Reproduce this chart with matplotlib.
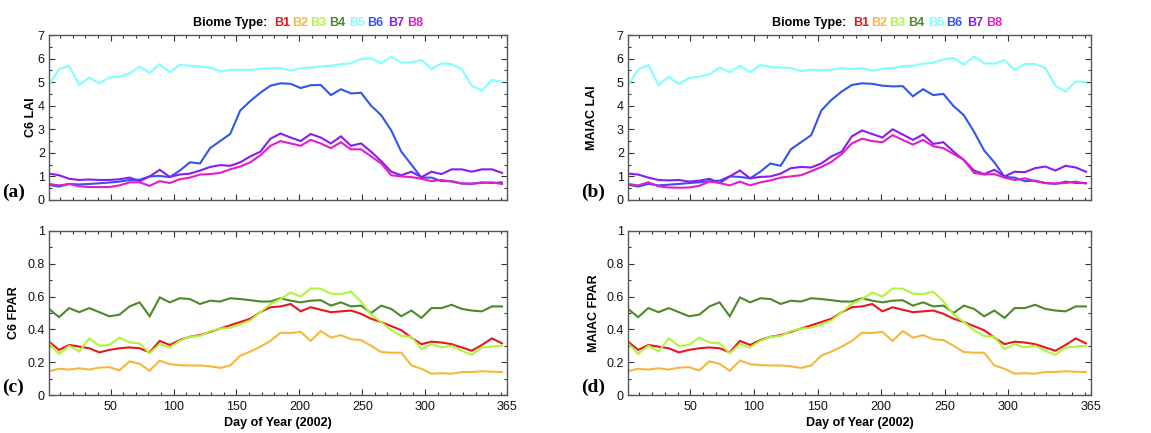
import numpy as np
import matplotlib
matplotlib.use("Agg")
import matplotlib.pyplot as plt
from matplotlib.ticker import MultipleLocator, FixedLocator

plt.rcParams['font.family'] = ['Liberation Sans', 'DejaVu Sans']

# Day of year of the 8-day composites
days = list(range(1, 362, 8))

# ---- C6 LAI (panel a) ----
c6_b5 = [4.88, 5.55, 5.69, 4.88, 5.19, 4.95, 5.20, 5.23, 5.37, 5.66, 5.40, 5.76, 5.42, 5.73, 5.70, 5.66,
         5.62, 5.45, 5.52, 5.52, 5.52, 5.56, 5.59, 5.59, 5.49, 5.59, 5.62, 5.66, 5.70, 5.76, 5.80, 5.98,
         6.01, 5.80, 6.08, 5.83, 5.84, 5.94, 5.56, 5.80, 5.76, 5.55, 4.85, 4.64, 5.09, 5.02]
c6_b6 = [0.64, 0.57, 0.68, 0.66, 0.68, 0.71, 0.74, 0.78, 0.85, 0.86, 1.00, 1.02, 0.97, 1.25, 1.60, 1.55,
         2.20, 2.50, 2.80, 3.80, 4.20, 4.55, 4.85, 4.95, 4.93, 4.75, 4.87, 4.88, 4.45, 4.70, 4.52, 4.55,
         4.00, 3.60, 2.95, 2.05, 1.50, 0.95, 0.95, 0.80, 0.80, 0.70, 0.68, 0.75, 0.72, 0.75]
c6_b7 = [1.12, 1.05, 0.90, 0.85, 0.87, 0.85, 0.85, 0.88, 0.95, 0.80, 1.00, 1.28, 0.98, 1.08, 1.12, 1.25,
         1.40, 1.48, 1.45, 1.60, 1.85, 2.05, 2.60, 2.82, 2.65, 2.50, 2.80, 2.65, 2.40, 2.70, 2.30, 2.40,
         2.05, 1.65, 1.20, 1.05, 1.20, 0.97, 1.20, 1.10, 1.30, 1.30, 1.20, 1.30, 1.30, 1.15]
c6_b8 = [0.68, 0.62, 0.68, 0.58, 0.55, 0.55, 0.55, 0.62, 0.75, 0.75, 0.60, 0.80, 0.72, 0.88, 0.95, 1.08,
         1.10, 1.15, 1.30, 1.42, 1.60, 1.90, 2.30, 2.50, 2.40, 2.30, 2.55, 2.40, 2.20, 2.45, 2.15, 2.15,
         1.85, 1.55, 1.05, 1.00, 0.97, 0.90, 0.80, 0.85, 0.78, 0.70, 0.70, 0.72, 0.75, 0.68]

# ---- MAIAC LAI (panel b) ----
mc_b5 = [4.85, 5.55, 5.72, 4.88, 5.22, 4.93, 5.17, 5.23, 5.33, 5.62, 5.42, 5.70, 5.42, 5.72, 5.65, 5.62,
         5.60, 5.47, 5.53, 5.50, 5.53, 5.60, 5.55, 5.60, 5.48, 5.57, 5.60, 5.68, 5.70, 5.78, 5.82, 5.97,
         6.02, 5.75, 6.08, 5.80, 5.78, 5.93, 5.52, 5.77, 5.77, 5.60, 4.85, 4.60, 5.03, 5.00]
mc_b6 = [0.65, 0.57, 0.68, 0.62, 0.65, 0.68, 0.72, 0.75, 0.80, 0.82, 1.00, 0.98, 0.92, 1.20, 1.55, 1.45,
         2.15, 2.45, 2.75, 3.80, 4.25, 4.60, 4.88, 4.95, 4.93, 4.85, 4.82, 4.83, 4.40, 4.70, 4.45, 4.50,
         3.98, 3.60, 2.90, 2.10, 1.60, 0.98, 0.95, 0.80, 0.82, 0.72, 0.68, 0.78, 0.72, 0.72]
mc_b7 = [1.12, 1.08, 0.95, 0.85, 0.83, 0.85, 0.78, 0.82, 0.90, 0.72, 1.00, 1.25, 0.92, 0.98, 1.00, 1.12,
         1.35, 1.40, 1.38, 1.55, 1.85, 2.05, 2.70, 2.95, 2.80, 2.65, 3.00, 2.78, 2.55, 2.78, 2.38, 2.45,
         2.05, 1.70, 1.25, 1.10, 1.28, 1.00, 1.20, 1.18, 1.35, 1.42, 1.25, 1.45, 1.38, 1.20]
mc_b8 = [0.68, 0.62, 0.75, 0.58, 0.53, 0.52, 0.53, 0.60, 0.78, 0.72, 0.62, 0.78, 0.62, 0.75, 0.83, 0.95,
         1.00, 1.05, 1.22, 1.40, 1.62, 1.95, 2.40, 2.60, 2.50, 2.45, 2.75, 2.55, 2.35, 2.55, 2.28, 2.20,
         1.95, 1.70, 1.15, 1.08, 1.10, 0.95, 0.85, 0.92, 0.80, 0.72, 0.70, 0.72, 0.78, 0.70]

# ---- FPAR (panels c and d) ----
c6_b1 = [0.325, 0.275, 0.305, 0.295, 0.285, 0.260, 0.275, 0.285, 0.290, 0.285, 0.260, 0.330, 0.305, 0.335,
         0.355, 0.365, 0.385, 0.405, 0.425, 0.445, 0.465, 0.505, 0.535, 0.540, 0.555, 0.510, 0.535, 0.520,
         0.505, 0.510, 0.515, 0.495, 0.465, 0.445, 0.420, 0.395, 0.350, 0.310, 0.325, 0.320, 0.310, 0.290,
         0.270, 0.305, 0.345, 0.315]
c6_b2 = [0.145, 0.160, 0.155, 0.163, 0.155, 0.167, 0.170, 0.150, 0.205, 0.190, 0.148, 0.210, 0.188, 0.182,
         0.180, 0.180, 0.175, 0.165, 0.180, 0.240, 0.265, 0.295, 0.330, 0.380, 0.378, 0.385, 0.330, 0.390,
         0.350, 0.365, 0.340, 0.335, 0.300, 0.262, 0.258, 0.258, 0.180, 0.160, 0.130, 0.133, 0.130, 0.140,
         0.140, 0.145, 0.142, 0.140]
c6_b3 = [0.315, 0.250, 0.300, 0.265, 0.345, 0.300, 0.305, 0.350, 0.320, 0.315, 0.255, 0.310, 0.290, 0.330,
         0.355, 0.360, 0.390, 0.405, 0.410, 0.430, 0.455, 0.505, 0.555, 0.585, 0.625, 0.600, 0.650, 0.648,
         0.618, 0.615, 0.630, 0.570, 0.490, 0.445, 0.395, 0.360, 0.355, 0.280, 0.310, 0.290, 0.300, 0.270,
         0.245, 0.290, 0.295, 0.300]
c6_b4 = [0.525, 0.475, 0.530, 0.505, 0.530, 0.505, 0.480, 0.490, 0.540, 0.565, 0.480, 0.595, 0.565, 0.590,
         0.585, 0.555, 0.575, 0.570, 0.590, 0.585, 0.578, 0.570, 0.570, 0.590, 0.575, 0.565, 0.575, 0.578,
         0.545, 0.565, 0.540, 0.545, 0.500, 0.545, 0.525, 0.480, 0.515, 0.470, 0.530, 0.530, 0.550, 0.525,
         0.515, 0.510, 0.540, 0.540]
mc_b1 = list(c6_b1)
mc_b2 = list(c6_b2)
mc_b3 = list(c6_b3)
mc_b4 = list(c6_b4)

biomes = ['B1', 'B2', 'B3', 'B4', 'B5', 'B6', 'B7', 'B8']
colors = {'B1': '#e8161e', 'B2': '#f5b83c', 'B3': '#b0f53c', 'B4': '#4c8a28',
          'B5': '#80ffff', 'B6': '#3355ee', 'B7': '#8a1cf0', 'B8': '#e21ec8'}
xticks_major = [50, 100, 150, 200, 250, 300, 365]

W, H = 1151, 433
fig = plt.figure(figsize=(W / 100, H / 100), dpi=100)
FS = 9


def px_axes(l, t, r, b):
    return fig.add_axes([l / W, 1 - b / H, (r - l) / W, (b - t) / H])


def style(ax, ymax, ymajor, yminor, show_x):
    ax.set_xlim(1, 365)
    ax.set_ylim(0, ymax)
    ax.xaxis.set_major_locator(FixedLocator(xticks_major))
    ax.xaxis.set_minor_locator(MultipleLocator(10))
    ax.yaxis.set_major_locator(MultipleLocator(ymajor))
    ax.yaxis.set_minor_locator(MultipleLocator(yminor))
    ax.tick_params(which='both', direction='in', top=True, right=True, colors='#333333',
                   labelsize=FS, labelcolor='#111111', width=0.8)
    ax.tick_params(which='major', length=4)
    ax.tick_params(which='minor', length=2)
    ax.tick_params(axis='y', pad=3)
    ax.tick_params(axis='x', pad=4)
    for s in ax.spines.values():
        s.set_color('#555555')
        s.set_linewidth(1.0)
    if not show_x:
        ax.set_xticklabels([])
    else:
        ax.set_xlabel('Day of Year (2002)', fontsize=FS, fontweight='bold', labelpad=3)
    ax.yaxis.set_major_formatter(matplotlib.ticker.FuncFormatter(
        lambda v, p: ('%g' % round(v, 2))))


def legend_row(x0):
    y = 1 - 23 / H
    fig.text((x0 + 193) / W, y, 'Biome Type:', fontsize=FS, fontweight='bold', va='center', ha='left')
    offs = [274, 292, 310, 329, 349, 367, 388, 407]
    for b, o in zip(biomes, offs):
        fig.text((x0 + o) / W, y, b, fontsize=FS, fontweight='bold', color=colors[b],
                 va='center', ha='left')


lw = 1.5
# rect (px), ylabel, series, ymax, major, minor, show x labels, tag, x offset, ylabel right edge (px)
panels = [
    ((49, 35, 507, 200), 'C6 LAI', {'B5': c6_b5, 'B6': c6_b6, 'B7': c6_b7, 'B8': c6_b8}, 7, 1, 0.5, False, '(a)', 0, 37),
    ((628, 35, 1091, 200), 'MAIAC LAI', {'B5': mc_b5, 'B6': mc_b6, 'B7': mc_b7, 'B8': mc_b8}, 7, 1, 0.5, False, '(b)', 579, 598),
    ((49, 231, 507, 395), 'C6 FPAR', {'B4': c6_b4, 'B1': c6_b1, 'B3': c6_b3, 'B2': c6_b2}, 1, 0.2, 0.1, True, '(c)', 0, 20),
    ((628, 231, 1091, 395), 'MAIAC FPAR', {'B4': mc_b4, 'B1': mc_b1, 'B3': mc_b3, 'B2': mc_b2}, 1, 0.2, 0.1, True, '(d)', 579, 600),
]

for rect, ylabel, series, ymax, ymaj, ymin, showx, tag, x0, ylx in panels:
    ax = px_axes(*rect)
    for b, vals in series.items():
        ax.plot(days, vals, color=colors[b], lw=lw, solid_joinstyle='miter')
    style(ax, ymax, ymaj, ymin, showx)
    ax.set_ylabel(ylabel, fontsize=FS, fontweight='bold')
    ax.yaxis.set_label_coords((ylx - rect[0]) / (rect[2] - rect[0]), 0.5)
    fig.text((x0 + 2) / W, 1 - (rect[3] - 8) / H, tag, fontsize=14, fontweight='bold',
             family=['Liberation Serif', 'DejaVu Serif'], va='center', ha='left')
    if not showx:
        legend_row(x0)

fig.savefig('out.png', dpi=100)
